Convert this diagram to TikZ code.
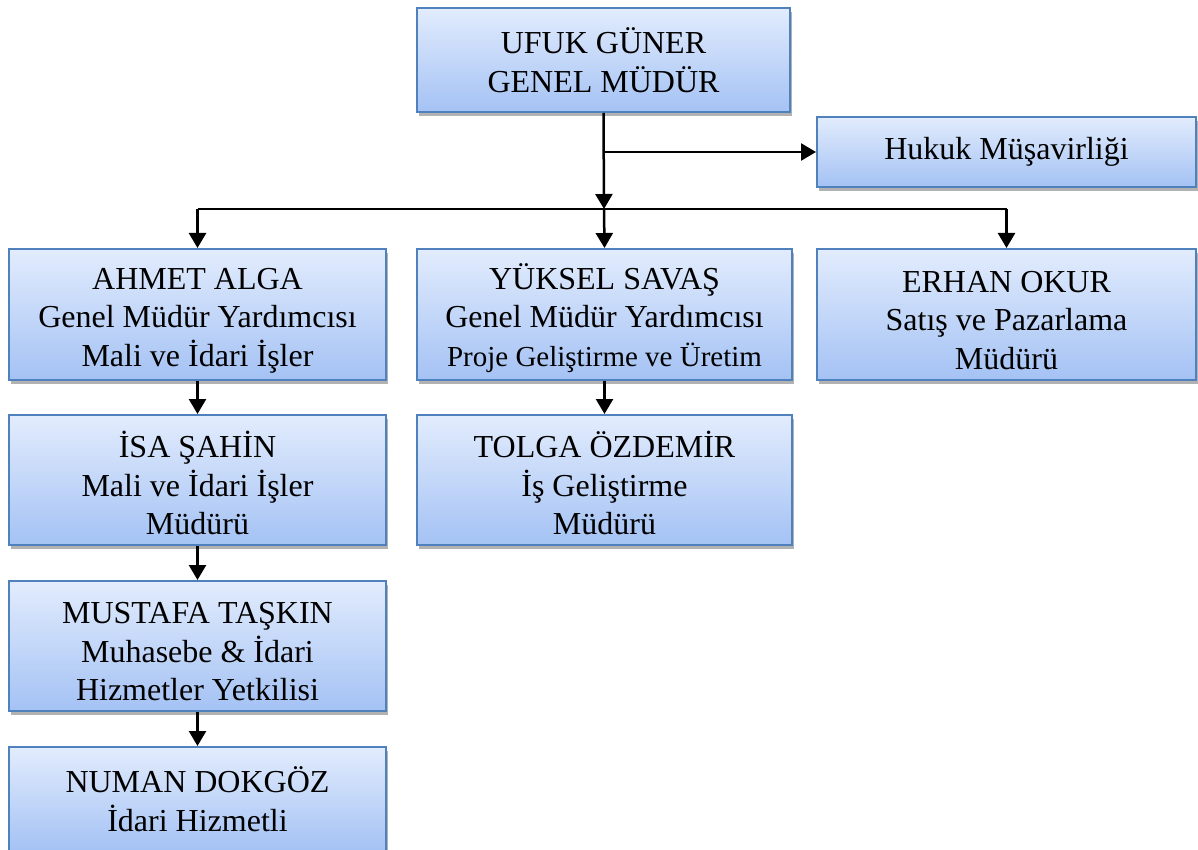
\documentclass[tikz,border=0pt]{standalone}
\usepackage{fontspec}
\setmainfont{Liberation Serif}
\usetikzlibrary{arrows.meta,shadows}
\definecolor{boxtop}{RGB}{226,236,253}
\definecolor{boxbot}{RGB}{164,194,244}
\definecolor{boxline}{RGB}{79,129,189}
\newcommand{\orgstrut}{\rule{0pt}{33pt}}
\tikzset{
  orgbox/.style={draw=boxline, line width=2pt, top color=boxtop, bottom color=boxbot,
    align=center, inner sep=0pt, font=\fontsize{32}{38.5}\selectfont,
    drop shadow={shadow xshift=2pt, shadow yshift=-4pt, opacity=0.3, fill=black}},
  conn/.style={line width=2.5pt, draw=black},
  arr/.style={conn, -{Triangle[width=17pt,length=15pt]}},
}
\begin{document}
\begin{tikzpicture}[x=1pt,y=-1pt]
\clip (0,0) rectangle (1198,850);
\fill[white] (0,0) rectangle (1198,850);
\node[orgbox, minimum width=373pt, minimum height=104pt] (ufuk) at (603.5,60) {UFUK GÜNER\\GENEL MÜDÜR};
\node[orgbox, minimum width=379pt, minimum height=70pt] (hukuk) at (1006.5,152) {Hukuk Müşavirliği};
\node[orgbox, minimum width=377pt, minimum height=131pt] (ahmet) at (197.5,314.5) {\orgstrut AHMET ALGA\\Genel Müdür Yardımcısı\\Mali ve İdari İşler};
\node[orgbox, minimum width=375pt, minimum height=131pt] (yuksel) at (604.5,314.5) {\orgstrut YÜKSEL SAVAŞ\\Genel Müdür Yardımcısı\\{\fontsize{29}{38.5}\selectfont Proje Geliştirme ve Üretim}};
\node[orgbox, minimum width=379pt, minimum height=131pt] (erhan) at (1006.5,314.5) {\orgstrut ERHAN OKUR\\Satış ve Pazarlama\\Müdürü};
\node[orgbox, minimum width=377pt, minimum height=130pt] (isa) at (197.5,480) {\orgstrut İSA ŞAHİN\\Mali ve İdari İşler\\Müdürü};
\node[orgbox, minimum width=375pt, minimum height=130pt] (tolga) at (604.5,480) {\orgstrut TOLGA ÖZDEMİR\\İş Geliştirme\\Müdürü};
\node[orgbox, minimum width=377pt, minimum height=130pt] (mustafa) at (197.5,646) {\orgstrut MUSTAFA TAŞKIN\\Muhasebe \& İdari\\Hizmetler Yetkilisi};
\node[orgbox, minimum width=377pt, minimum height=104pt] (numan) at (197.5,799) {NUMAN DOKGÖZ\\İdari Hizmetli};
\coordinate (bus) at (604,209);
\coordinate (hb) at (ufuk.south |- hukuk.west);
\draw[arr] (ufuk.south) -- (bus);
\draw[arr] (hb) -- (hukuk.west);
\draw[conn] (ahmet.north |- bus) -- (erhan.north |- bus);
\draw[arr] (ahmet.north |- bus) -- (ahmet.north);
\draw[arr] (bus) -- (yuksel.north);
\draw[arr] (erhan.north |- bus) -- (erhan.north);
\draw[arr] (ahmet.south) -- (isa.north);
\draw[arr] (isa.south) -- (mustafa.north);
\draw[arr] (mustafa.south) -- (numan.north);
\draw[arr] (yuksel.south) -- (tolga.north);
\end{tikzpicture}
\end{document}
